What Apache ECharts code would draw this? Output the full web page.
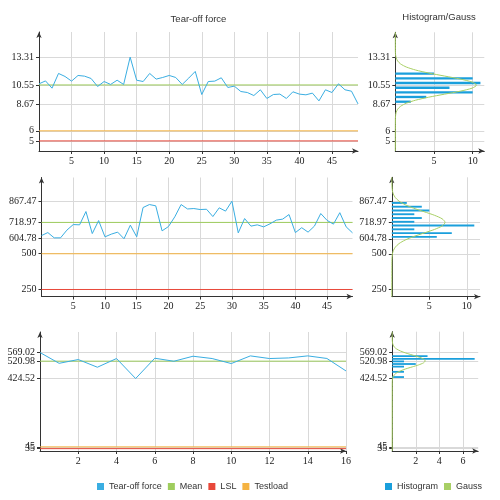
<!DOCTYPE html>
<html>
<head>
<meta charset="utf-8">
<script src="https://cdn.jsdelivr.net/npm/echarts@6/dist/echarts.min.js"></script>
<style>
  html, body { margin: 0; padding: 0; background: #fff; }
  #chart { width: 500px; height: 500px; }
</style>
</head>
<body>
<div id="chart"></div>
<script>
// ---- panel 1 (top) ----
const force1 = [10.66, 10.95, 10.23, 11.69, 11.39, 10.93, 11.49, 11.42, 11.19, 10.40,
  10.89, 10.60, 11.02, 10.60, 13.31, 11.02, 10.89, 11.69, 11.13, 11.29,
  11.49, 11.29, 10.60, 11.23, 11.89, 9.60, 10.89, 10.93, 11.26, 10.30,
  10.43, 9.90, 9.80, 9.50, 10.07, 9.21, 9.60, 9.64, 9.21, 9.87,
  9.64, 9.57, 9.74, 8.97, 10.07, 9.80, 10.66, 10.07, 9.93, 8.67]
const mean1 = 10.55, lsl1 = 5, testload1 = 6
const yTicks1 = [5, 6, 8.67, 10.55, 13.31]
const binCenters1 = [8.90, 9.37, 9.83, 10.29, 10.76, 11.22, 11.69]
const binCounts1 = [2, 4, 10, 7, 11, 10, 5]
const gaussY1 = [4, 7.25, 7.55, 7.85, 8.15, 8.45, 8.75, 9.05, 9.35, 9.65, 9.95, 10.25, 10.55,
  10.85, 11.15, 11.45, 11.75, 12.05, 12.35, 12.65, 12.95, 13.25, 13.55, 13.85, 15.8]
const gaussX1 = [0, 0.01, 0.04, 0.12, 0.30, 0.69, 1.42, 2.62, 4.32, 6.37, 8.41, 9.93, 10.5,
  9.93, 8.41, 6.37, 4.32, 2.62, 1.42, 0.69, 0.30, 0.12, 0.04, 0.01, 0]

// ---- panel 2 (middle) ----
const force2 = [627, 648, 611, 611, 665, 704, 702, 795, 641, 732,
  618, 637, 651, 604.78, 700, 618, 823, 844, 835, 660,
  690, 758, 844, 813, 816, 809, 811, 760, 821, 798,
  867.47, 646, 746, 693, 702, 688, 709, 735, 742, 774,
  648, 682, 651, 693, 781, 733, 707, 787, 688, 646]
const mean2 = 718.97, lsl2 = 250, testload2 = 500
const yTicks2 = [250, 500, 604.78, 718.97, 867.47]
const binCenters2 = [617.9, 644.2, 670.5, 696.7, 723.0, 749.3, 775.6, 801.8, 828.1, 854.4]
const binCounts2 = [6, 8, 3, 11, 3, 4, 3, 5, 4, 2]
const gaussY2 = [201, 447.6, 472.3, 497, 521.6, 546.3, 571, 595.6, 620.3, 645, 669.6, 694.3, 718.97,
  743.6, 768.3, 793, 817.6, 842.3, 867, 891.6, 916.3, 941, 965.6, 990.3, 1033]
const gaussX2 = [0, 0.01, 0.03, 0.08, 0.20, 0.47, 0.96, 1.77, 2.92, 4.31, 5.69, 6.72, 7.1,
  6.72, 5.69, 4.31, 2.92, 1.77, 0.96, 0.47, 0.20, 0.08, 0.03, 0.01, 0]

// ---- panel 3 (bottom) ----
const force3 = [569.02, 509, 530, 487.3, 535.6, 424.52, 537.3, 520.6, 548.4, 535.6,
  507.7, 550.3, 535.6, 539, 550.3, 536, 466.7]
const mean3 = 520.98, lsl3 = 35, testload3 = 45
const yTicks3 = [35, 45, 424.52, 520.98, 569.02]
const binCenters3 = [431.75, 460.65, 489.55, 504.0, 518.45, 532.9, 547.35]
const binCounts3 = [1, 1, 1, 2, 1, 7, 3]
const gaussY3 = [22, 400, 411, 422, 433, 444, 455, 466, 477, 488, 499, 510, 520.98,
  532, 543, 554, 565, 576, 587, 598, 609, 620, 631, 642, 683]
const gaussX3 = [0, 0.003, 0.01, 0.03, 0.08, 0.18, 0.38, 0.70, 1.15, 1.70, 2.24, 2.65, 2.8,
  2.65, 2.24, 1.70, 1.15, 0.70, 0.38, 0.18, 0.08, 0.03, 0.01, 0.003, 0]

const xTicksLong = [5, 10, 15, 20, 25, 30, 35, 40, 45]
const xTicksShort = [2, 4, 6, 8, 10, 12, 14, 16]

const panels = [
  { force: force1, mean: mean1, lsl: lsl1, test: testload1, yTicks: yTicks1, yMin: 4, yMax: 15.8,
    xTicks: xTicksLong, xMax: 49, grid: { left: 39, top: 32, width: 319, height: 119 } },
  { force: force2, mean: mean2, lsl: lsl2, test: testload2, yTicks: yTicks2, yMin: 201, yMax: 1033,
    xTicks: xTicksLong, xMax: 49, grid: { left: 41.5, top: 177.5, width: 311, height: 119 } },
  { force: force3, mean: mean3, lsl: lsl3, test: testload3, yTicks: yTicks3, yMin: 22, yMax: 683,
    xTicks: xTicksShort, xMax: 16, grid: { left: 40, top: 332, width: 306, height: 119 } }
]
const hists = [
  { centers: binCenters1, counts: binCounts1, binW: 0.464, gx: gaussX1, gy: gaussY1, xTicks: [5, 10], xMax: 11.5,
    grid: { left: 395.3, top: 32.3, width: 89, height: 118.7 } },
  { centers: binCenters2, counts: binCounts2, binW: 26.27, gx: gaussX2, gy: gaussY2, xTicks: [5, 10], xMax: 11.76,
    grid: { left: 391.8, top: 177.3, width: 88.2, height: 119.4 } },
  { centers: binCenters3, counts: binCounts3, binW: 14.45, gx: gaussX3, gy: gaussY3, xTicks: [2, 4, 6], xMax: 7.3,
    grid: { left: 392.2, top: 331.7, width: 86, height: 119.3 } }
]

const C_FORCE = '#3aaee2'
const C_MEAN = '#9fcd5e'
const C_LSL = '#e8483a'
const C_TEST = '#f5b342'
const C_HIST = '#1a9fdc'
const C_GAUSS = '#a8cf65'

const labelFont = { fontFamily: 'Liberation Serif', fontSize: 10, color: '#222' }

function axisCommon(min, max, ticks) {
  return {
    type: 'value',
    min: min,
    max: max,
    axisLine: { show: true, symbol: ['none', 'arrow'], symbolSize: [4, 6], lineStyle: { color: '#333', width: 1 } },
    axisTick: { show: true, length: 3, customValues: ticks, lineStyle: { color: '#333' } },
    axisLabel: Object.assign({ customValues: ticks, margin: 5, showMinLabel: true, showMaxLabel: true }, labelFont),
    splitLine: { show: true, lineStyle: { color: '#d9d9d9', width: 1 } }
  }
}

// ECharts hides a label that overlaps the first/last one, so every other
// y label goes on a second, bare axis laid over the first one
function yAxesFor(gridIndex, min, max, ticks) {
  const odd = ticks.filter((t, k) => k % 2 === 0)
  const even = ticks.filter((t, k) => k % 2 === 1)
  const main = axisCommon(min, max, ticks)
  main.axisLabel.customValues = odd
  main.gridIndex = gridIndex
  const extra = {
    type: 'value', gridIndex: gridIndex, min: min, max: max, position: 'left', offset: 0,
    axisLine: { show: false }, axisTick: { show: false }, splitLine: { show: false },
    axisLabel: Object.assign({ customValues: even, margin: 5, showMinLabel: true, showMaxLabel: true }, labelFont)
  }
  return [main, extra]
}

const grids = []
const xAxes = []
const yAxes = []
const series = []

function addGrid(g, xMax, xTicks, yMin, yMax, yTicks) {
  const gi = grids.length
  grids.push(Object.assign({ outerBoundsMode: 'none', containLabel: false }, g))
  xAxes.push(Object.assign(axisCommon(0, xMax, xTicks), { gridIndex: gi }))
  const yi = yAxes.length
  yAxesFor(gi, yMin, yMax, yTicks).forEach(a => yAxes.push(a))
  return { xi: gi, yi: yi }
}

panels.forEach((p) => {
  const ix = addGrid(p.grid, p.xMax, p.xTicks, p.yMin, p.yMax, p.yTicks)
  const flat = (name, v, color) => ({
    name: name, type: 'line', xAxisIndex: ix.xi, yAxisIndex: ix.yi, symbol: 'none', silent: true,
    data: [[0, v], [p.xMax, v]], lineStyle: { color: color, width: 1 }, itemStyle: { color: color }, z: 2
  })
  series.push(flat('Mean', p.mean, C_MEAN))
  series.push(flat('LSL', p.lsl, C_LSL))
  series.push(flat('Testload', p.test, C_TEST))
  series.push({
    name: 'Tear-off force', type: 'line', xAxisIndex: ix.xi, yAxisIndex: ix.yi, symbol: 'none',
    data: p.force.map((v, k) => [k, v]),
    lineStyle: { color: C_FORCE, width: 1 }, itemStyle: { color: C_FORCE }, z: 3
  })
})

hists.forEach((h, j) => {
  const p = panels[j]
  const ix = addGrid(h.grid, h.xMax, h.xTicks, p.yMin, p.yMax, p.yTicks)
  series.push({
    name: 'Histogram', type: 'custom', xAxisIndex: ix.xi, yAxisIndex: ix.yi,
    encode: { x: 0, y: 1 },
    data: h.counts.map((c, k) => [c, h.centers[k]]),
    itemStyle: { color: C_HIST },
    renderItem: function (params, api) {
      const a = api.coord([0, api.value(1)])
      const b = api.coord([api.value(0), api.value(1)])
      const th = Math.max(1.8, api.size([0, h.binW])[1] * 0.5)
      return {
        type: 'rect',
        shape: { x: a[0], y: a[1] - th / 2, width: b[0] - a[0], height: th },
        style: api.style({ fill: C_HIST })
      }
    },
    z: 2
  })
  series.push({
    name: 'Gauss', type: 'line', xAxisIndex: ix.xi, yAxisIndex: ix.yi, symbol: 'none',
    smooth: 0.25,
    data: h.gx.map((x, k) => [x, h.gy[k]]),
    lineStyle: { color: C_GAUSS, width: 1 }, itemStyle: { color: C_GAUSS }, z: 3
  })
})

const legendText = { fontFamily: 'Liberation Sans', fontSize: 9, color: '#333' }

const option = {
  animation: false,
  backgroundColor: '#fff',
  title: [
    { text: 'Tear-off force', left: 198.5, textAlign: 'center', top: 14, padding: 0,
      textStyle: { fontFamily: 'Liberation Sans', fontSize: 9.5, fontWeight: 'normal', color: '#333' } },
    { text: 'Histogram/Gauss', left: 439, textAlign: 'center', top: 12, padding: 0,
      textStyle: { fontFamily: 'Liberation Sans', fontSize: 9.5, fontWeight: 'normal', color: '#333' } }
  ],
  legend: [
    { data: ['Tear-off force', 'Mean', 'LSL', 'Testload'], left: 97, top: 482, padding: 0,
      icon: 'rect', itemWidth: 7, itemHeight: 7, itemGap: 6, textStyle: legendText },
    { data: ['Histogram', 'Gauss'], left: 385, top: 482, padding: 0,
      icon: 'rect', itemWidth: 7, itemHeight: 7, itemGap: 6, textStyle: legendText }
  ],
  grid: grids,
  xAxis: xAxes,
  yAxis: yAxes,
  series: series
}

const chart = echarts.init(document.getElementById('chart'))
chart.setOption(option)
</script>
</body>
</html>
